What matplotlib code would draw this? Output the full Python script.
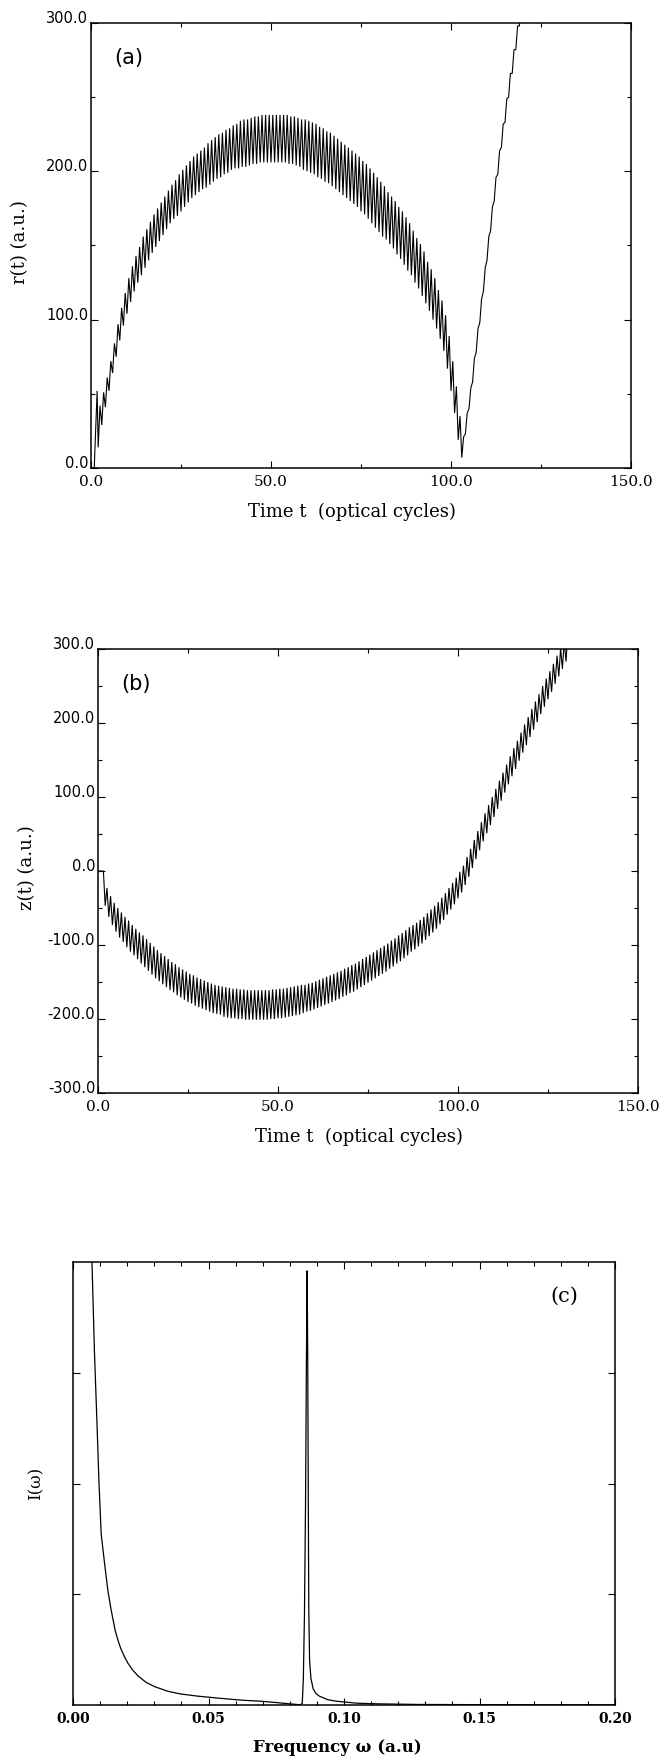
import numpy as np
import matplotlib
matplotlib.use("Agg")
import matplotlib.pyplot as plt
from matplotlib.ticker import MultipleLocator, FormatStrFormatter, FixedLocator, NullFormatter

# ---------------- data ----------------
# (a) r(t): start of trace, then per optical cycle the band centre and half-swing
r_start_t = [0.0, 0.9, 1.7]
r_start_v = [0.0, 0.0, 52.0]
r_cycles = list(range(2, 120))
r_mid = [28, 40, 51, 62, 74, 86, 97, 107, 116, 124,
         131, 137, 143, 148, 153, 158, 162, 166, 170, 174,
         178, 181, 184, 187, 190, 193, 196, 198, 200, 202,
         204, 206, 208, 210, 211, 213, 214, 216, 217, 218,
         219, 219, 220, 221, 221, 222, 222, 222, 222, 222,
         222, 222, 222, 221, 221, 220, 219, 218, 217, 216,
         215, 213, 212, 210, 209, 207, 205, 203, 201, 199,
         197, 195, 193, 190, 188, 185, 182, 179, 176, 173,
         170, 167, 164, 160, 157, 153, 149, 145, 140, 136,
         131, 125, 120, 114, 107, 100, 91, 78, 62, 46,
         27, 14, 30, 47, 66, 86, 106, 127, 148, 168,
         188, 206, 224, 241, 258, 274, 290, 306]
r_amp = [14, 11, 10, 10, 10, 11, 11, 11, 12, 12,
         12, 12, 13, 13, 13, 13, 13, 13, 13, 13,
         13, 13, 14, 14, 14, 14, 14, 14, 14, 14,
         15, 15, 15, 15, 15, 15, 15, 15, 15, 16,
         16, 16, 16, 16, 16, 16, 16, 16, 16, 16,
         16, 16, 16, 16, 16, 16, 16, 17, 17, 17,
         17, 17, 17, 17, 17, 17, 17, 17, 17, 17,
         17, 17, 17, 17, 17, 17, 17, 17, 17, 17,
         16, 16, 16, 16, 16, 16, 16, 15, 15, 15,
         15, 14, 14, 14, 13, 13, 12, 11, 10, 9,
         8, 7, 7, 7, 8, 8, 8, 8, 8, 8,
         8, 8, 8, 8, 8, 8, 8, 8]

# (b) z(t)
z_start_t = [0.0, 1.5]
z_start_v = [0.0, 0.0]
z_cycles = list(range(2, 131))
z_mid = [-35, -48, -58, -66, -73, -79, -85, -91, -96, -101,
         -106, -111, -116, -121, -126, -130, -134, -138, -142, -145,
         -149, -152, -155, -158, -160, -163, -165, -167, -169, -171,
         -173, -174, -175, -177, -178, -179, -179, -180, -180, -181,
         -181, -181, -181, -181, -181, -181, -180, -180, -179, -179,
         -178, -177, -176, -175, -174, -173, -171, -170, -168, -166,
         -164, -162, -160, -158, -156, -154, -151, -149, -146, -144,
         -141, -138, -135, -132, -129, -126, -123, -120, -117, -113,
         -110, -106, -103, -99, -95, -91, -88, -84, -80, -75,
         -70, -65, -60, -54, -48, -41, -34, -27, -19, -11,
         0, 11, 23, 35, 47, 59, 70, 81, 92, 103,
         114, 125, 136, 147, 157, 168, 179, 189, 200, 210,
         220, 231, 241, 251, 261, 272, 282, 292, 302]
z_amp = [12, 14, 15, 16, 17, 17, 18, 18, 18, 18,
         19, 19, 19, 19, 19, 19, 19, 19, 19, 19,
         19, 19, 19, 19, 19, 19, 19, 19, 19, 19,
         19, 19, 19, 20, 20, 20, 20, 20, 20, 20,
         20, 20, 20, 20, 20, 20, 20, 20, 20, 20,
         20, 20, 20, 20, 20, 19, 19, 19, 19, 19,
         19, 19, 19, 19, 19, 19, 19, 19, 19, 19,
         19, 19, 19, 19, 19, 19, 19, 19, 19, 19,
         19, 19, 19, 19, 19, 18, 18, 18, 18, 18,
         18, 18, 18, 18, 18, 18, 18, 18, 18, 18,
         19, 19, 19, 19, 19, 19, 19, 19, 19, 19,
         19, 19, 19, 19, 19, 19, 19, 19, 19, 19,
         19, 19, 19, 19, 19, 19, 19, 19, 19]

# (c) spectrum I(omega), arbitrary units (0..1 of the frame)
omega = [0.0065, 0.0070, 0.0079, 0.0089, 0.0096, 0.0104, 0.0117, 0.0129, 0.0141,
         0.0155, 0.0165, 0.0176, 0.0189, 0.0202, 0.0220, 0.0241, 0.0270, 0.0303,
         0.0350, 0.0396, 0.0460, 0.0536, 0.0620, 0.0692, 0.0750, 0.0800, 0.0839,
         0.0846, 0.0850, 0.0854, 0.0858, 0.0861, 0.0864, 0.0866, 0.0868, 0.0870,
         0.0873, 0.0878, 0.0886, 0.0895, 0.0909, 0.0940, 0.0971, 0.1049, 0.1127,
         0.1280, 0.1500, 0.1750, 0.2000]
intensity = [1.25, 1.00, 0.80, 0.627, 0.50, 0.386, 0.317, 0.257, 0.214,
             0.170, 0.148, 0.128, 0.110, 0.095, 0.079, 0.065, 0.051, 0.041,
             0.031, 0.025, 0.020, 0.0155, 0.011, 0.0086, 0.0055, 0.0026, 0.0005,
             0.004, 0.06, 0.20, 0.45, 0.75, 0.98, 0.80, 0.50, 0.22,
             0.10, 0.06, 0.037, 0.027, 0.020, 0.012, 0.0086, 0.004, 0.0026,
             0.0012, 0.0008, 0.0006, 0.0005]


def trace(t0, v0, cycles, mid, amp):
    """Trough at the start of each cycle, crest half a cycle later."""
    t = list(t0)
    v = list(v0)
    for k, m, a in zip(cycles, mid, amp):
        t += [k, k + 0.5]
        v += [m - a, m + a]
    return np.array(t, float), np.array(v, float)


W, H = 660, 1759
fig = plt.figure(figsize=(W / 100, H / 100), dpi=100)
fig.patch.set_facecolor("white")


def box(l, t, r, b):
    return [l / W, 1 - b / H, (r - l) / W, (b - t) / H]


SANS = "DejaVu Sans"
SERIF = "DejaVu Serif"


def style_axes(ax):
    for s in ax.spines.values():
        s.set_linewidth(1.1)
        s.set_color("black")
    ax.tick_params(which="both", direction="in", top=True, right=True,
                   bottom=True, left=True, width=0.8, color="black")
    ax.tick_params(which="major", length=5)
    ax.tick_params(which="minor", length=3)


def time_panel(rect, t, v, ylim, yticks, ylabel, tag):
    ax = fig.add_axes(rect)
    ax.plot(t, v, color="black", lw=0.8, solid_joinstyle="miter")
    ax.set_xlim(0, 150)
    ax.set_ylim(*ylim)
    ax.xaxis.set_major_locator(FixedLocator([0, 50, 100, 150]))
    ax.xaxis.set_minor_locator(FixedLocator([25, 75, 125]))
    ax.yaxis.set_major_locator(FixedLocator(yticks))
    ax.yaxis.set_minor_locator(MultipleLocator(50))
    ax.xaxis.set_major_formatter(FormatStrFormatter("%.1f"))
    ax.yaxis.set_major_formatter(FormatStrFormatter("%.1f"))
    style_axes(ax)
    ax.tick_params(axis="x", which="major", pad=5)
    ax.tick_params(axis="y", which="major", pad=2)
    for lb in ax.get_xticklabels():
        lb.set_fontfamily(SERIF)
        lb.set_fontsize(11)
    for lb in ax.get_yticklabels():
        lb.set_fontfamily(SANS)
        lb.set_fontsize(10.5)
        lb.set_va("baseline")
    ax.set_xlabel("Time t  (optical cycles)", fontfamily=SERIF, fontsize=13)
    ax.xaxis.set_label_coords(0.484, -0.098)
    ax.xaxis.label.set_va("center")
    ax.set_ylabel(ylabel, fontfamily=SERIF, fontsize=13)
    ax.yaxis.set_label_coords(-0.131, 0.507)
    ax.yaxis.label.set_va("center")
    ax.text(0.070, 0.921, tag, transform=ax.transAxes, ha="center", va="center",
            fontfamily=SANS, fontsize=15)
    return ax


ta, va = trace(r_start_t, r_start_v, r_cycles, r_mid, r_amp)
time_panel(box(91, 23, 631, 468), ta, va, (0, 300), [0, 100, 200, 300],
           "r(t) (a.u.)", "(a)")

tb, vb = trace(z_start_t, z_start_v, z_cycles, z_mid, z_amp)
time_panel(box(98, 649, 638, 1093), tb, vb, (-300, 300),
           [-300, -200, -100, 0, 100, 200, 300], "z(t) (a.u.)", "(b)")

# (c)
axc = fig.add_axes(box(73, 1262, 615, 1705))
axc.plot(omega, intensity, color="black", lw=0.9)
axc.set_xlim(0, 0.2)
axc.set_ylim(0, 1)
axc.xaxis.set_major_locator(FixedLocator([0.0, 0.05, 0.10, 0.15, 0.20]))
axc.xaxis.set_minor_locator(MultipleLocator(0.01))
axc.xaxis.set_major_formatter(FormatStrFormatter("%.2f"))
axc.yaxis.set_major_locator(FixedLocator([0.25, 0.5, 0.75]))
axc.yaxis.set_major_formatter(NullFormatter())
style_axes(axc)
axc.tick_params(axis="x", which="major", pad=5)
for lb in axc.get_xticklabels():
    lb.set_fontfamily(SERIF)
    lb.set_fontweight("bold")
    lb.set_fontsize(10)
axc.set_xlabel("Frequency ω (a.u)", fontfamily=SERIF, fontweight="bold", fontsize=12)
axc.xaxis.set_label_coords(0.487, -0.097)
axc.xaxis.label.set_va("center")
axc.set_ylabel("I(ω)", fontfamily=SERIF, fontsize=12)
axc.yaxis.set_label_coords(-0.068, 0.5)
axc.yaxis.label.set_va("center")
axc.text(0.906, 0.923, "(c)", transform=axc.transAxes, ha="center", va="center",
         fontfamily=SERIF, fontsize=15)

fig.savefig("out.png", dpi=100, facecolor="white")
